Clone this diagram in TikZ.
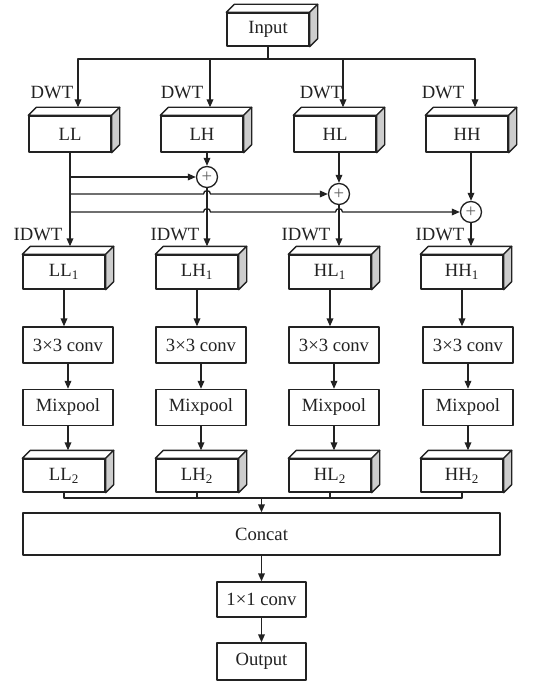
\documentclass[tikz,border=0pt]{standalone}
\usepackage{fontspec}
\setmainfont{Liberation Serif}
\usetikzlibrary{arrows.meta,calc}
\definecolor{ln}{HTML}{222222}
\definecolor{sidegray}{HTML}{CDCDCD}
\newcommand{\mycubefaces}[1]{%
  \draw[fill=white] (#1.north west) -- ++(8,-8) -- ($(#1.north east)+(8,-8)$) -- (#1.north east) -- cycle;
  \draw[fill=sidegray] (#1.north east) -- ++(8,-8) -- ($(#1.south east)+(8,-8)$) -- (#1.south east) -- cycle;}
\begin{document}
\begin{tikzpicture}[x=0.75pt,y=-0.75pt,line width=1pt,draw=ln,line join=round,
  box/.style={draw=ln,fill=white,inner sep=0pt,font=\fontsize{14}{16}\selectfont,text=ln},
  cbox/.style={box,minimum width=61.5pt},
  pbox/.style={box,minimum width=67.5pt,minimum height=27pt},
  lbl/.style={inner sep=0pt,font=\fontsize{14}{16}\selectfont,text=ln},
  plus/.style={circle,draw=ln,fill=white,inner sep=0pt,minimum size=15.75pt,text=gray!75!black,font=\fontsize{14}{14}\selectfont},
  arr/.style={draw=ln,-{Triangle[length=6pt,width=5pt]}}]
\useasboundingbox (0,0) rectangle (544,681);

% Input
\node[cbox,minimum height=24.75pt] (in) at (268,29.5) {Input};
\mycubefaces{in}

% first row
\node[cbox,minimum height=27pt] (LL) at (70,134) {LL};
\node[cbox,minimum height=27pt] (LH) at (202,134) {LH};
\node[cbox,minimum height=27pt] (HL) at (335,134) {HL};
\node[cbox,minimum height=27pt] (HH) at (467,134) {HH};
\foreach \n in {LL,LH,HL,HH} {\mycubefaces{\n}}

\coordinate (split) at (268,59);
\draw (in.south) -- (split);
\foreach \n in {LL,LH,HL,HH} {\draw[arr] (split) -| ($(\n.north)+(8,-8)$);}

\node[lbl] (d1) at (52,93) {DWT};
\node[lbl] (d2) at (182,93) {DWT};
\node[lbl] (d3) at (321,93) {DWT};
\node[lbl] (d4) at (443,93) {DWT};

% second row
\node[cbox,minimum height=25.5pt] (LL1) at (64,272) {LL\textsubscript{1}};
\node[cbox,minimum height=25.5pt] (LH1) at (197,272) {LH\textsubscript{1}};
\node[cbox,minimum height=25.5pt] (HL1) at (330,272) {HL\textsubscript{1}};
\node[cbox,minimum height=25.5pt] (HH1) at (462,272) {HH\textsubscript{1}};
\foreach \n in {LL1,LH1,HL1,HH1} {\mycubefaces{\n}}

\node[lbl] (i1) at (38,235) {IDWT};
\node[lbl] (i2) at (175,235) {IDWT};
\node[lbl] (i3) at (306,235) {IDWT};
\node[lbl] (i4) at (440,235) {IDWT};

% plus nodes
\node[plus] (P1) at (207,177) {+};
\node[plus] (P2) at (339,194) {+};
\node[plus] (P3) at (471,212) {+};

\coordinate (LL1t) at ($(LL1.north)+(0,-8)$);
\coordinate (LH1t) at ($(LH1.north)+(0,-8)$);
\coordinate (HL1t) at ($(HL1.north)+(0,-8)$);
\coordinate (HH1t) at ($(HH1.north)+(0,-8)$);

\draw[arr] (LL.south) -- (LL.south |- LL1t);
\draw[arr] (P1 |- LH.south) -- (P1.north);
\draw[arr] (P2 |- HL.south) -- (P2.north);
\draw[arr] (P3 |- HH.south) -- (P3.north);
\draw[arr] (P1.south) -- (P1 |- LH1t);
\draw[arr] (P2.south) -- (P2 |- HL1t);
\draw[arr] (P3.south) -- (P3 |- HH1t);

\draw[arr] (LL.south |- P1) -- (P1.west);
\draw[arr] (LL.south |- P2) -- ($(P1 |- P2)+(-3.5,0)$) .. controls +(0,-4.5) and +(0,-4.5) .. ($(P1 |- P2)+(3.5,0)$) -- (P2.west);
\draw[arr] (LL.south |- P3) -- ($(P1 |- P3)+(-3.5,0)$) .. controls +(0,-4.5) and +(0,-4.5) .. ($(P1 |- P3)+(3.5,0)$)
  -- ($(P2 |- P3)+(-3.5,0)$) .. controls +(0,-4.5) and +(0,-4.5) .. ($(P2 |- P3)+(3.5,0)$) -- (P3.west);

% conv and mixpool
\node[pbox] (c1) at (68,345) {3×3 conv};
\node[pbox] (c2) at (201,345) {3×3 conv};
\node[pbox] (c3) at (334,345) {3×3 conv};
\node[pbox] (c4) at (468,345) {3×3 conv};
\node[pbox] (m1) at (68,407.5) {Mixpool};
\node[pbox] (m2) at (201,407.5) {Mixpool};
\node[pbox] (m3) at (334,407.5) {Mixpool};
\node[pbox] (m4) at (468,407.5) {Mixpool};

% third row
\node[cbox,minimum height=24.75pt] (LL2) at (64,475.5) {LL\textsubscript{2}};
\node[cbox,minimum height=24.75pt] (LH2) at (197,475.5) {LH\textsubscript{2}};
\node[cbox,minimum height=24.75pt] (HL2) at (330,475.5) {HL\textsubscript{2}};
\node[cbox,minimum height=24.75pt] (HH2) at (462,475.5) {HH\textsubscript{2}};
\foreach \n in {LL2,LH2,HL2,HH2} {\mycubefaces{\n}}

\foreach \a/\c/\m/\b in {LL1/c1/m1/LL2,LH1/c2/m2/LH2,HL1/c3/m3/HL2,HH1/c4/m4/HH2} {
  \draw[arr] (\a.south) -- (\a.south |- \c.north);
  \draw[arr] (\c.south) -- (\m.north);
  \draw[arr] (\m.south) -- ($(\m.south |- \b.north)+(0,-8)$);
}

% concat and output
\node[box,minimum width=357.75pt,minimum height=31.5pt] (cat) at (261.5,534) {Concat};
\node[box,minimum width=66.75pt,minimum height=26.25pt] (c11) at (261.5,599.5) {1×1 conv};
\node[box,minimum width=66.75pt,minimum height=27.75pt] (out) at (261.5,661.5) {Output};

\coordinate (join) at (262,498);
\draw (LL2.south) |- (HH2.south |- join) -- (HH2.south);
\draw (LH2.south) -- (LH2.south |- join);
\draw (HL2.south) -- (HL2.south |- join);
\draw[arr] (cat.north |- join) -- (cat.north);
\draw[arr] (cat.south) -- (c11.north);
\draw[arr] (c11.south) -- (out.north);
\end{tikzpicture}
\end{document}
